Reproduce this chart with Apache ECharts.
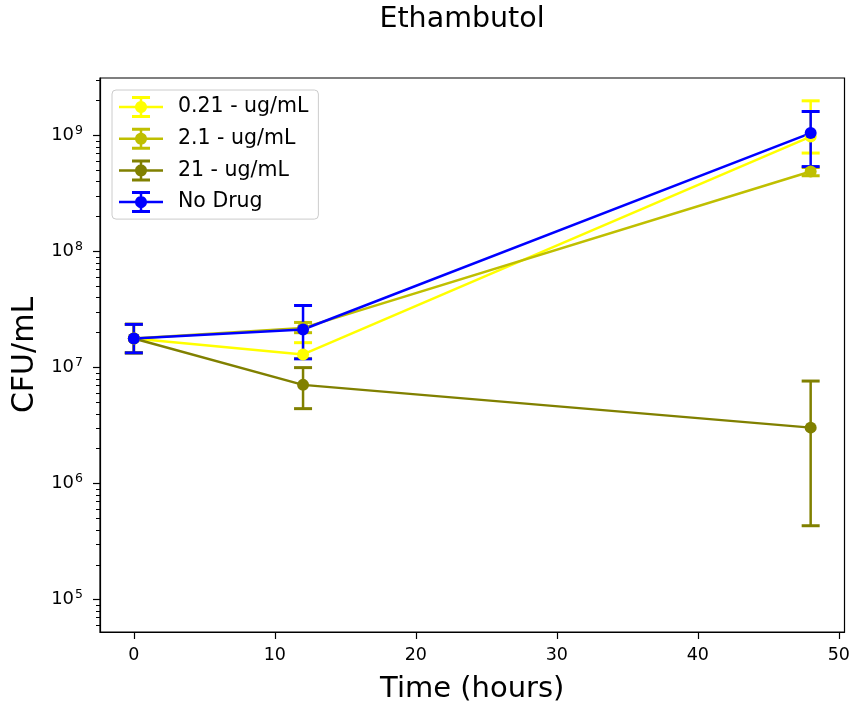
<!DOCTYPE html>
<html>
<head>
<meta charset="utf-8">
<title>Ethambutol</title>
<script src="https://cdn.jsdelivr.net/npm/echarts@6/dist/echarts.min.js"></script>
<style>
  html, body { margin: 0; padding: 0; background: #ffffff; }
  #chart { width: 853px; height: 709px; }
</style>
</head>
<body>
<div id="chart"></div>
<script>
// Sampling times (hours)
const hours = [0, 12, 48];

// Series labels and colours
const seriesNames = ['0.21 - ug/mL', '2.1 - ug/mL', '21 - ug/mL', 'No Drug'];
const seriesColors = ['#ffff00', '#bfbf00', '#808000', '#0000ff'];

// Mean CFU/mL per time point
const cfuLowDose = [1.78e7, 1.30e7, 9.8e8];
const cfuMidDose = [1.78e7, 2.2e7, 4.9e8];
const cfuHighDose = [1.78e7, 7.1e6, 3.04e6];
const cfuNoDrug = [1.78e7, 2.13e7, 1.05e9];

// Error bar ends (lower / upper) per time point
const lowDoseLower = [1.34e7, 1.2e7, 7.06e8];
const lowDoseUpper = [2.36e7, 1.64e7, 1.99e9];
const midDoseLower = [1.34e7, 2.0e7, 4.5e8];
const midDoseUpper = [2.36e7, 2.45e7, 5.3e8];
const highDoseLower = [1.34e7, 4.43e6, 4.34e5];
const highDoseUpper = [2.36e7, 1.0e7, 7.66e6];
const noDrugLower = [1.34e7, 1.19e7, 5.4e8];
const noDrugUpper = [2.36e7, 3.43e7, 1.61e9];

// Axis ticks
const xTicks = [0, 10, 20, 30, 40, 50];
const yDecades = [5, 6, 7, 8, 9];
const xRange = [-2.4, 50.4];
const yRange = [52700, 3.13e9];

const FONT = 'DejaVu Sans';

const means = [cfuLowDose, cfuMidDose, cfuHighDose, cfuNoDrug];
const lowers = [lowDoseLower, midDoseLower, highDoseLower, noDrugLower];
const uppers = [lowDoseUpper, midDoseUpper, highDoseUpper, noDrugUpper];

// exponent-space range used by the tick overlay axes
const expRange = [Math.log10(yRange[0]), Math.log10(yRange[1])];
const minorExp = [];
for (let n = 4; n <= 9; n++) {
  for (let k = 2; k <= 9; k++) {
    const e = Math.log10(k * Math.pow(10, n));
    if (e > expRange[0] && e < expRange[1]) minorExp.push(e);
  }
}

// Legend glyph: line, vertical error bar with caps, and a round marker
function circlePath(cx, cy, r, steps) {
  let d = '';
  for (let i = 0; i < steps; i++) {
    const a = -Math.PI + (i / steps) * 2 * Math.PI;
    const px = (cx + r * Math.cos(a)).toFixed(3);
    const py = (cy + r * Math.sin(a)).toFixed(3);
    d += (i === 0 ? 'M' : 'L') + px + ',' + py + ' ';
  }
  return d + 'Z';
}
const errorbarIcon = 'path://' +
  'M0,9.75 L44,9.75 L44,12.25 L0,12.25 Z ' +
  'M20.75,1.5 L23.25,1.5 L23.25,20.5 L20.75,20.5 Z ' +
  'M13,0 L31,0 L31,3 L13,3 Z ' +
  'M13,19 L31,19 L31,22 L13,22 Z ' +
  circlePath(22, 11, 6, 32);

function errorSeries(idx) {
  const color = seriesColors[idx];
  return {
    type: 'custom',
    name: seriesNames[idx],
    xAxisIndex: 0,
    yAxisIndex: 0,
    itemStyle: { color: color },
    encode: { x: 0, y: [1, 2] },
    data: hours.map((h, i) => [h, lowers[idx][i], uppers[idx][i]]),
    clip: false,
    silent: true,
    renderItem: function (params, api) {
      const x = api.value(0);
      const pLo = api.coord([x, api.value(1)]);
      const pHi = api.coord([x, api.value(2)]);
      const hw = 9;
      return {
        type: 'group',
        children: [
          { type: 'line', shape: { x1: pLo[0], y1: pLo[1], x2: pHi[0], y2: pHi[1] },
            style: { stroke: color, lineWidth: 2.5 } },
          { type: 'line', shape: { x1: pLo[0] - hw, y1: pLo[1], x2: pLo[0] + hw, y2: pLo[1] },
            style: { stroke: color, lineWidth: 3 } },
          { type: 'line', shape: { x1: pHi[0] - hw, y1: pHi[1], x2: pHi[0] + hw, y2: pHi[1] },
            style: { stroke: color, lineWidth: 3 } }
        ]
      };
    }
  };
}

function lineSeries(idx) {
  const color = seriesColors[idx];
  return {
    type: 'line',
    name: seriesNames[idx],
    xAxisIndex: 0,
    yAxisIndex: 0,
    data: hours.map((h, i) => [h, means[idx][i]]),
    symbol: 'circle',
    symbolSize: 12,
    showSymbol: true,
    itemStyle: { color: color, borderWidth: 0 },
    lineStyle: { color: color, width: 2.5 },
    clip: false,
    silent: true
  };
}

const series = [];
for (let i = 0; i < seriesNames.length; i++) {
  series.push(errorSeries(i));
  series.push(lineSeries(i));
}

const chart = echarts.init(document.getElementById('chart'), null, { renderer: 'canvas' });

chart.setOption({
  animation: false,
  backgroundColor: '#ffffff',
  textStyle: { fontFamily: FONT },
  title: {
    text: 'Ethambutol',
    left: 457,
    textAlign: 'center',
    top: 0,
    textStyle: { fontFamily: FONT, fontSize: 28.5, fontWeight: 'normal', color: '#000' }
  },
  grid: {
    left: 100, right: 5, top: 78, bottom: 76,
    show: true, borderColor: '#000', borderWidth: 1.2, backgroundColor: 'transparent'
  },
  legend: {
    data: seriesNames,
    orient: 'vertical',
    left: 112, top: 90,
    itemWidth: 44, itemHeight: 22, itemGap: 9.7,
    padding: [6, 10, 6, 7],
    backgroundColor: 'rgba(255,255,255,0.8)',
    borderColor: '#cccccc', borderWidth: 1, borderRadius: 4,
    icon: errorbarIcon,
    itemStyle: { borderWidth: 0 },
    selectedMode: false,
    textStyle: { fontFamily: FONT, fontSize: 20.5, color: '#000', padding: [0, 0, 0, 10] }
  },
  xAxis: {
    type: 'value',
    min: xRange[0], max: xRange[1],
    name: 'Time (hours)',
    nameLocation: 'middle',
    nameGap: 43,
    nameTextStyle: { fontFamily: FONT, fontSize: 29, color: '#000' },
    axisLine: { show: true, onZero: false, lineStyle: { color: '#000', width: 1.2 } },
    axisTick: { show: true, customValues: xTicks, length: 7, lineStyle: { color: '#000', width: 1.2 } },
    axisLabel: { customValues: xTicks, fontFamily: FONT, fontSize: 17.5, color: '#000', margin: 14 },
    splitLine: { show: false }
  },
  yAxis: [
    {
      type: 'log',
      logBase: 10,
      min: yRange[0], max: yRange[1],
      name: 'CFU/mL',
      nameLocation: 'middle',
      nameGap: 58,
      nameRotate: 90,
      nameTextStyle: { fontFamily: FONT, fontSize: 30, color: '#000' },
      axisLine: { show: true, onZero: false, lineStyle: { color: '#000', width: 1.2 } },
      axisTick: { show: false },
      axisLabel: {
        showMinLabel: false, showMaxLabel: false,
        margin: 17,
        formatter: function (v) {
          const e = Math.round(Math.log10(v));
          return '{b|10}{s|' + e + '}';
        },
        rich: {
          b: { fontFamily: FONT, fontSize: 18, color: '#000' },
          s: { fontFamily: FONT, fontSize: 12.5, color: '#000', padding: [0, 0, 9, 1] }
        }
      },
      splitLine: { show: false },
      minorTick: { show: false }
    },
    {
      // decade tick marks
      type: 'value',
      min: expRange[0], max: expRange[1],
      position: 'left',
      axisLine: { show: false, onZero: false },
      axisLabel: { show: false },
      splitLine: { show: false },
      axisTick: { show: true, customValues: yDecades, length: 7, lineStyle: { color: '#000', width: 1.2 } }
    },
    {
      // intermediate tick marks
      type: 'value',
      min: expRange[0], max: expRange[1],
      position: 'left',
      axisLine: { show: false, onZero: false },
      axisLabel: { show: false },
      splitLine: { show: false },
      axisTick: { show: true, customValues: minorExp, length: 4, lineStyle: { color: '#000', width: 1 } }
    }
  ],
  series: series
});
</script>
</body>
</html>
